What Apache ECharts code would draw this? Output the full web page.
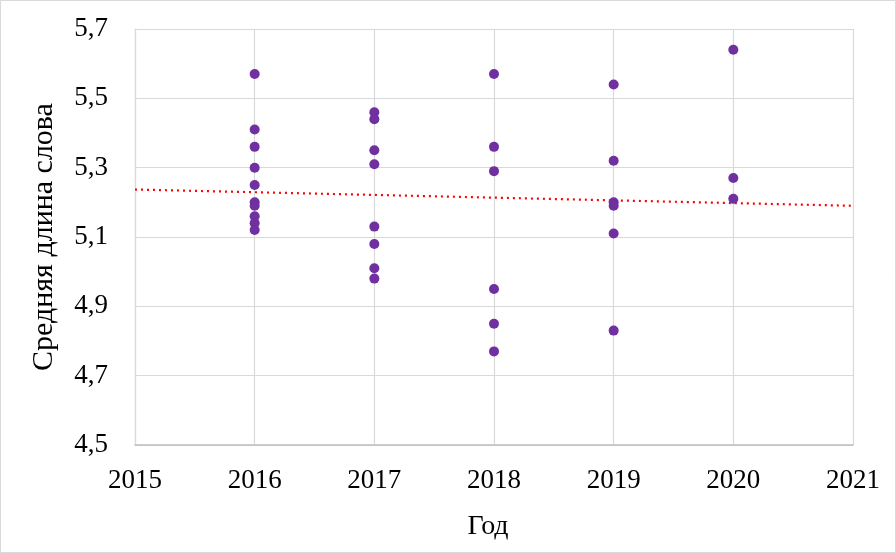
<!DOCTYPE html>
<html>
<head>
<meta charset="utf-8">
<script src="https://cdn.jsdelivr.net/npm/echarts@6/dist/echarts.min.js"></script>
<style>
html,body{margin:0;padding:0;background:#fff;}
#c{width:896px;height:553px;}
</style>
</head>
<body>
<div id="c"></div>
<script>
// Data
const years2016 = [5.57, 5.41, 5.36, 5.30, 5.25, 5.20, 5.19, 5.16, 5.14, 5.12];
const years2017 = [5.46, 5.44, 5.35, 5.31, 5.13, 5.08, 5.01, 4.98];
const years2018 = [5.57, 5.36, 5.29, 4.95, 4.85, 4.77];
const years2019 = [5.54, 5.32, 5.20, 5.19, 5.11, 4.83];
const years2020 = [5.64, 5.27, 5.21];
const yearKeys = [2016, 2017, 2018, 2019, 2020];
const yearValues = [years2016, years2017, years2018, years2019, years2020];
const xTicks = [2015, 2016, 2017, 2018, 2019, 2020, 2021];
const yTicks = [4.5, 4.7, 4.9, 5.1, 5.3, 5.5, 5.7];
// linear trend line end values at 2015 and 2021
const trendYears = [2015, 2021];
const trendValues = [5.237, 5.190];

const points = [];
yearKeys.forEach((y, i) => yearValues[i].forEach(v => points.push([y, v])));
const trend = trendYears.map((y, i) => [y, trendValues[i]]);

const font = '"Liberation Serif", "Times New Roman", serif';
const chart = echarts.init(document.getElementById('c'));
chart.setOption({
  animation: false,
  backgroundColor: '#fff',
  textStyle: { fontFamily: font },
  graphic: [{
    type: 'rect', shape: { x: 0.5, y: 0.5, width: 895, height: 552 },
    style: { fill: 'none', stroke: '#d9d9d9', lineWidth: 1 }, silent: true
  }],
  grid: { left: 135, right: 43, top: 29, bottom: 108 },
  xAxis: {
    type: 'value', min: xTicks[0], max: xTicks[xTicks.length - 1], interval: 1,
    name: 'Год', nameLocation: 'middle', nameGap: 68,
    nameTextStyle: { fontFamily: font, fontSize: 28, color: '#000', padding: [0, 12, 0, 0] },
    axisLine: { show: true, lineStyle: { color: '#bfbfbf', width: 1.5 } },
    axisTick: { show: false },
    splitLine: { show: true, lineStyle: { color: '#d9d9d9', width: 1.2 } },
    axisLabel: { fontFamily: font, fontSize: 27, color: '#000', margin: 22, formatter: v => String(v) }
  },
  yAxis: {
    type: 'value', min: yTicks[0], max: yTicks[yTicks.length - 1], interval: 0.2,
    name: 'Средняя длина слова', nameLocation: 'middle', nameGap: 76,
    nameTextStyle: { fontFamily: font, fontSize: 30, color: '#000' },
    axisLine: { show: true, lineStyle: { color: '#d9d9d9', width: 1.2 } },
    axisTick: { show: false },
    splitLine: { show: true, lineStyle: { color: '#d9d9d9', width: 1.2 } },
    axisLabel: { fontFamily: font, fontSize: 27, color: '#000', margin: 27,
      formatter: v => v.toFixed(1).replace('.', ',') }
  },
  series: [
    {
      type: 'line', data: trend, symbol: 'none', silent: true, z: 3,
      lineStyle: { color: '#ff0000', width: 2.2, type: [2, 4] }
    },
    {
      type: 'scatter', data: points, symbolSize: 10, z: 4,
      itemStyle: { color: '#7030A0', opacity: 1 }
    }
  ]
});
</script>
</body>
</html>
